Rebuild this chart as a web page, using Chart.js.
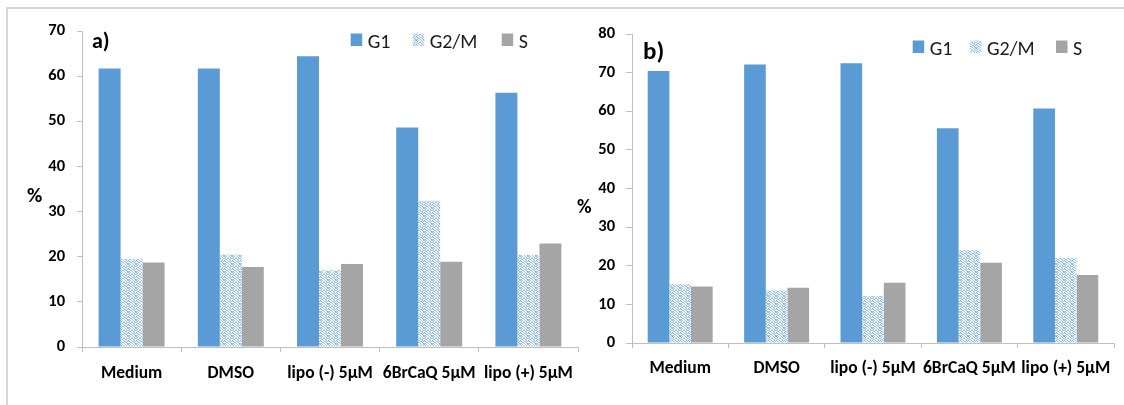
<!DOCTYPE html>
<html>
<head>
<meta charset="utf-8">
<script src="https://cdn.jsdelivr.net/npm/chart.js@4.4.1/dist/chart.umd.min.js"></script>
<style>
  html, body { margin: 0; padding: 0; background: #fff; width: 1124px; height: 405px; overflow: hidden; }
  #frame { position: absolute; left: 6px; top: 7px; width: 1140px; height: 420px;
           border-top: 2px solid #d6d6d6; border-left: 2px solid #d6d6d6; }
  #chartA { position: absolute; left: 0; top: 0; }
  #chartB { position: absolute; left: 560px; top: 0; }
</style>
</head>
<body>
<div id="frame"></div>
<canvas id="chartA" width="590" height="405"></canvas>
<canvas id="chartB" width="564" height="405"></canvas>
<script>
// Cell-cycle distribution (%) per treatment
const categories = ['Medium', 'DMSO', 'lipo (-) 5µM', '6BrCaQ 5µM', 'lipo (+) 5µM'];
const seriesNames = ['G1', 'G2/M', 'S'];

// Panel a
const g1A  = [61.7, 61.7, 64.4, 48.6, 56.3];
const g2mA = [19.5, 20.5, 17.0, 32.4, 20.4];
const sA   = [18.7, 17.7, 18.4, 18.9, 22.9];
const yTicksA = [0, 10, 20, 30, 40, 50, 60, 70];

// Panel b
const g1B  = [70.4, 72.1, 72.4, 55.6, 60.7];
const g2mB = [15.2, 13.6, 12.2, 24.0, 22.0];
const sB   = [14.6, 14.3, 15.6, 20.8, 17.6];
const yTicksB = [0, 10, 20, 30, 40, 50, 60, 70, 80];

const FONT = 'Carlito, Lato, sans-serif';
const BLUE = '#5b9bd5';
const GREY = '#a5a5a5';
const AXIS = '#bfbfbf';

// Small woven texture used for the G2/M bars
function makeWeave() {
  const rows = [
    'X.X..X.X',
    '.X..X.X.',
    'X..XX..X',
    '.XX..XX.',
    'X..X..X.',
    '.X..XX.X',
    '..XX..X.',
    'XX..X..X'
  ];
  const c = document.createElement('canvas');
  c.width = rows[0].length; c.height = rows.length;
  const g = c.getContext('2d');
  g.fillStyle = '#ffffff';
  g.fillRect(0, 0, c.width, c.height);
  rows.forEach((r, y) => {
    for (let x = 0; x < r.length; x++) {
      if (r[x] === 'X') {
        g.fillStyle = (x * 3 + y) % 4 === 0 ? '#7fafe0' : '#a3c7ec';
        g.fillRect(x, y, 1, 1);
      } else if ((x + y * 2) % 5 === 0) {
        g.fillStyle = '#dde9f7';
        g.fillRect(x, y, 1, 1);
      }
    }
  });
  return g.createPattern(c, 'repeat');
}
const WEAVE = makeWeave();

// Panel letter, "%" label and legend drawn on top of the plot
const panelDecor = {
  id: 'panelDecor',
  afterDraw(chart, args, o) {
    const ctx = chart.ctx;
    ctx.save();
    ctx.fillStyle = '#000';
    ctx.textBaseline = 'alphabetic';
    ctx.textAlign = 'left';
    ctx.font = `bold ${o.letterSize}px ${FONT}`;
    ctx.fillText(o.letter, o.letterX, o.letterY);
    ctx.font = `bold ${o.pctSize}px ${FONT}`;
    ctx.fillText('%', o.pctX, o.pctY);
    ctx.font = `${o.legendSize}px ${FONT}`;
    chart.data.datasets.forEach((ds, i) => {
      const x = o.legendX[i];
      ctx.fillStyle = ds.backgroundColor;
      ctx.fillRect(x, o.legendY, 11.5, 12.5);
      ctx.fillStyle = '#1a1a1a';
      ctx.fillText(ds.label, x + 17, o.legendY + 14.5);
    });
    ctx.restore();
  }
};

function buildChart(id, g1, g2m, s, yTicks, layout) {
  const datasets = [
    { label: seriesNames[0], data: g1,  backgroundColor: BLUE },
    { label: seriesNames[1], data: g2m, backgroundColor: WEAVE },
    { label: seriesNames[2], data: s,   backgroundColor: GREY }
  ].map(d => Object.assign(d, {
    borderWidth: 0,
    categoryPercentage: layout.catPct,
    barPercentage: 1.0
  }));

  return new Chart(document.getElementById(id), {
    type: 'bar',
    data: { labels: categories, datasets },
    options: {
      responsive: false,
      animation: false,
      layout: { padding: { top: layout.top, right: layout.right, left: 0, bottom: 0 } },
      plugins: {
        legend: { display: false },
        tooltip: { enabled: false },
        panelDecor: layout.decor
      },
      scales: {
        x: {
          offset: true,
          grid: { offset: true, drawOnChartArea: false, tickLength: 5, color: AXIS },
          border: { color: AXIS },
          ticks: {
            color: '#000', padding: layout.xPad, maxRotation: 0, autoSkip: false,
            font: { family: FONT, size: 17.5, weight: 'bold' }
          },
          afterFit(sc) { sc.height = layout.xHeight; }
        },
        y: {
          min: yTicks[0],
          max: yTicks[yTicks.length - 1],
          grid: { drawOnChartArea: false, tickLength: layout.yTick, color: AXIS },
          border: { color: AXIS },
          ticks: {
            stepSize: yTicks[1] - yTicks[0], color: '#000', padding: layout.yPad,
            font: { family: FONT, size: 16.5, weight: 'bold' }
          },
          afterFit(sc) { sc.width = layout.yWidth; }
        }
      }
    },
    plugins: [panelDecor]
  });
}

buildChart('chartA', g1A, g2mA, sA, yTicksA, {
  catPct: 0.665, top: 31, right: 12, xHeight: 58, yWidth: 82, xPad: 11, yPad: 12, yTick: 5,
  decor: {
    letter: 'a)', letterSize: 22, letterX: 92, letterY: 48,
    pctSize: 21, pctX: 27, pctY: 202,
    legendSize: 20, legendX: [350.7, 412.7, 501.7], legendY: 33.5
  }
});

buildChart('chartB', g1B, g2mB, sB, yTicksB, {
  catPct: 0.674, top: 34, right: 10, xHeight: 62, yWidth: 72, xPad: 10, yPad: 11, yTick: 6,
  decor: {
    letter: 'b)', letterSize: 25, letterX: 83, letterY: 59,
    pctSize: 20, pctX: 17, pctY: 213,
    legendSize: 20, legendX: [352.7, 410, 496], legendY: 40.5
  }
});
</script>
</body>
</html>
